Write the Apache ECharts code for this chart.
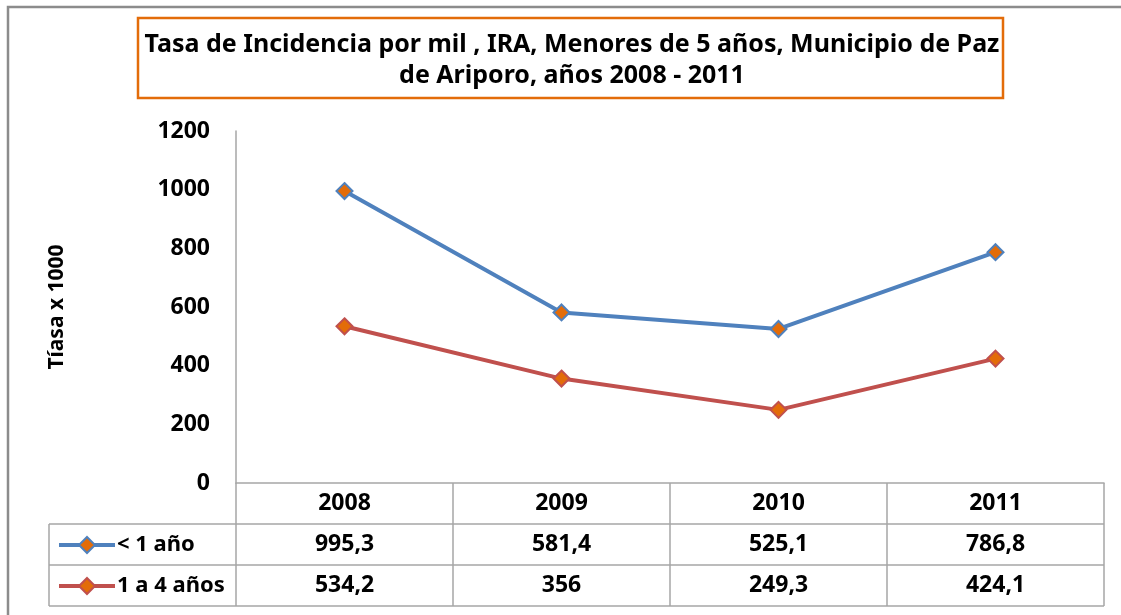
<!DOCTYPE html>
<html>
<head>
<meta charset="utf-8">
<script src="https://cdn.jsdelivr.net/npm/echarts@6/dist/echarts.min.js"></script>
<style>
  html, body { margin: 0; padding: 0; background: #fff; }
  #chart { width: 1121px; height: 615px; }
</style>
</head>
<body>
<div id="chart"></div>
<script>
// Incidence rate of acute respiratory infection (per thousand), under 5 years
const years = ['2008', '2009', '2010', '2011'];
const seriesNames = ['< 1 año', '1 a 4 años'];
const menor1 = [995.3, 581.4, 525.1, 786.8];
const de1a4 = [534.2, 356, 249.3, 424.1];
const yTicks = [0, 200, 400, 600, 800, 1000, 1200];

const titleLines = [
  'Tasa de Incidencia por mil , IRA, Menores de 5 años, Municipio de Paz',
  'de Ariporo, años 2008 - 2011'
];
const yName = 'Tíasa x 1000';

const FONT = '"Noto Sans", "Open Sans", sans-serif';
const BLUE = '#4F81BD';
const RED = '#C0504D';
const ORANGE = '#E36C09';
const GRID_LINE = '#A6A6A6';

const fmt = v => String(v).replace('.', ',');

const chart = echarts.init(document.getElementById('chart'), null, { renderer: 'canvas' });

const GRID = { left: 236, right: 17, top: 131, bottom: 132 };
const ROW_H = 41;

function lineSeries(name, data, color) {
  return {
    name: name,
    type: 'line',
    data: data,
    symbol: 'diamond',
    symbolSize: 16,
    lineStyle: { color: color, width: 4 },
    itemStyle: { color: ORANGE, borderColor: color, borderWidth: 2 },
    emphasis: { disabled: true },
    z: 3
  };
}

chart.setOption({
  animation: false,
  backgroundColor: '#fff',
  grid: GRID,
  legend: {
    orient: 'vertical',
    left: 52,
    top: 529,
    itemWidth: 56,
    itemHeight: 20,
    itemGap: 19,
    data: seriesNames,
    lineStyle: { width: 4 },
    textStyle: { fontFamily: FONT, fontWeight: 'bold', fontSize: 22, lineHeight: 20, color: '#000', padding: [0, 0, 0, -3] },
    selectedMode: false
  },
  xAxis: {
    type: 'category',
    data: years,
    boundaryGap: true,
    axisLine: { show: true, lineStyle: { color: GRID_LINE, width: 1.5 } },
    axisTick: { show: false },
    splitLine: { show: false },
    axisLabel: {
      margin: 0,
      interval: 0,
      formatter: (value, idx) =>
        '{r|' + value + '}\n{r|' + fmt(menor1[idx]) + '}\n{r|' + fmt(de1a4[idx]) + '}',
      rich: {
        r: { fontFamily: FONT, fontWeight: 'bold', fontSize: 23, color: '#000', lineHeight: ROW_H, height: ROW_H }
      }
    }
  },
  yAxis: {
    type: 'value',
    min: yTicks[0],
    max: yTicks[yTicks.length - 1],
    interval: yTicks[1] - yTicks[0],
    name: yName,
    nameLocation: 'middle',
    nameRotate: 90,
    nameGap: 168,
    nameTextStyle: { fontFamily: FONT, fontWeight: 'bold', fontSize: 21, color: '#000' },
    axisLine: { show: true, lineStyle: { color: GRID_LINE, width: 1.5 } },
    axisTick: { show: false },
    splitLine: { show: false },
    axisLabel: {
      margin: 26,
      formatter: v => String(v),
      fontFamily: FONT, fontWeight: 'bold', fontSize: 23, color: '#000'
    }
  },
  series: [
    lineSeries(seriesNames[0], menor1, BLUE),
    lineSeries(seriesNames[1], de1a4, RED)
  ]
});

// Data table rules and the title box, placed from the axis scale
function drawOverlay() {
  const W = chart.getWidth();
  const H = chart.getHeight();
  const x1 = W - GRID.right;
  const yAxisPx = H - GRID.bottom;
  const rowLines = [1, 2, 3].map(k => yAxisPx + k * ROW_H);
  const tableBottom = rowLines[rowLines.length - 1];
  const tableLeft = 49;

  const centers = years.map((y, i) => chart.convertToPixel({ xAxisIndex: 0 }, i));
  const band = centers.length > 1 ? centers[1] - centers[0] : (x1 - GRID.left);
  const bounds = centers.map(c => c - band / 2).concat([centers[centers.length - 1] + band / 2]);

  const els = [];
  const stroke = { stroke: GRID_LINE, lineWidth: 1.5 };
  bounds.forEach(bx => {
    els.push({ type: 'line', shape: { x1: bx, y1: yAxisPx, x2: bx, y2: tableBottom }, style: stroke, silent: true });
  });
  rowLines.forEach(ry => {
    els.push({ type: 'line', shape: { x1: tableLeft, y1: ry, x2: x1, y2: ry }, style: stroke, silent: true });
  });
  els.push({ type: 'line', shape: { x1: tableLeft, y1: rowLines[0], x2: tableLeft, y2: tableBottom }, style: stroke, silent: true });

  // chart frame
  els.push({ type: 'polyline', shape: { points: [[8, H + 5], [8, 7], [W + 5, 7]] }, style: { stroke: '#8C8C8C', lineWidth: 2.5, fill: null }, silent: true });

  // title box
  els.push({ type: 'rect', shape: { x: 138, y: 18, width: 865, height: 80 }, style: { fill: '#fff', stroke: ORANGE, lineWidth: 2.5 }, silent: true });
  titleLines.forEach((t, i) => {
    els.push({
      type: 'text', x: 572, y: 45 + i * 31,
      style: { text: t, fontFamily: FONT, fontWeight: 'bold', fontSize: 25, fill: '#000', align: 'center', verticalAlign: 'middle' },
      silent: true
    });
  });

  chart.setOption({ graphic: { elements: els } });
}
drawOverlay();
</script>
</body>
</html>
